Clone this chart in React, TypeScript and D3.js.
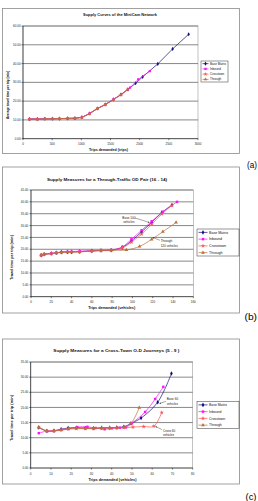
import * as d3 from "d3";

const FONT = "'Liberation Sans', Arial, Helvetica, sans-serif";

const seriesNames = ["Base Matrix", "Inbound", "Crosstown", "Through"];
const seriesColors = ["#10107a", "#ff10ff", "#ff5555", "#b8703c"];
const seriesSymbols = [d3.symbolDiamond, d3.symbolSquare, d3.symbolStar, d3.symbolTriangle];

// (a) Supply curves of the MiniCam network
const aXTicks = [0, 500, 1000, 1500, 2000, 2500, 3000];
const aYTicks = [0, 10, 20, 30, 40, 50, 60];
const aBaseX = [110, 245, 375, 505, 625, 765, 890, 1010, 1140, 1275, 1410, 1550, 1680, 1800, 1930, 2050, 2310, 2565, 2840];
const aBaseY = [10.5, 10.5, 10.6, 10.6, 10.7, 10.8, 10.9, 11.4, 13.4, 16.1, 18.2, 20.9, 23.5, 26.2, 29.5, 32.9, 39.8, 47.8, 55.6];
const aInboundX = [110, 245, 375, 505, 625, 765, 890, 1010, 1140, 1275, 1410, 1550, 1680, 1835, 1975, 2175];
const aInboundY = [10.5, 10.5, 10.6, 10.6, 10.7, 10.8, 10.9, 11.4, 13.4, 16.1, 18.2, 20.9, 23.6, 27.2, 31.6, 36.0];
const aCrossX = [110, 245, 375, 505, 625, 765, 890, 1010, 1140, 1275, 1410, 1550, 1680, 1795];
const aCrossY = [10.4, 10.4, 10.5, 10.6, 10.7, 10.8, 10.9, 11.3, 13.3, 16.0, 18.1, 20.8, 23.4, 26.2];
const aThroughX = [110, 245, 375, 505, 625, 765, 890, 1010, 1140, 1275, 1410, 1550, 1680, 1795];
const aThroughY = [10.4, 10.4, 10.5, 10.6, 10.7, 10.8, 10.9, 11.3, 13.3, 16.0, 18.1, 20.8, 23.4, 26.3];

// (b) Through-traffic OD pair (16 - 14)
const bXTicks = [0, 20, 40, 60, 80, 100, 120, 140, 160];
const bYTicks = [0, 5, 10, 15, 20, 25, 30, 35, 40, 45];
const bBaseX = [10, 13, 20, 25, 30, 36, 40, 48, 60, 69, 79, 90, 99, 109, 119, 129, 139];
const bBaseY = [17.5, 17.9, 18.2, 18.5, 18.8, 18.9, 18.9, 19.0, 19.3, 19.5, 19.6, 20.8, 23.5, 27.3, 31.4, 35.5, 38.7];
const bInboundX = [10, 13, 20, 25, 30, 36, 40, 48, 60, 69, 79, 90, 99, 109, 119, 130, 144];
const bInboundY = [17.6, 17.9, 18.3, 18.6, 18.8, 18.9, 19.0, 19.2, 19.4, 19.6, 19.7, 21.0, 24.2, 28.0, 31.8, 35.8, 40.0];
const bCrossX = [10, 13, 20, 25, 30, 36, 40, 48, 60, 69, 79, 90, 99, 109, 119, 129, 139];
const bCrossY = [17.4, 17.8, 18.2, 18.4, 18.7, 18.8, 18.8, 18.9, 19.2, 19.4, 19.5, 20.6, 23.0, 26.4, 30.5, 34.9, 38.5];
const bThroughX = [10, 13, 20, 25, 30, 36, 40, 48, 60, 69, 79, 94, 107, 119, 130, 143];
const bThroughY = [17.5, 17.9, 18.2, 18.5, 18.8, 18.9, 18.9, 19.0, 19.3, 19.5, 19.6, 19.7, 21.2, 24.2, 27.4, 31.3];

// (c) Cross-town O-D journeys (5 - 9)
const cXTicks = [0, 10, 20, 30, 40, 50, 60, 70, 80];
const cYTicks = [0, 5, 10, 15, 20, 25, 30, 35];
const cBaseX = [4, 8, 11.5, 15, 18.5, 22.5, 27, 31, 35, 39, 42.5, 46, 49.5, 54.5, 62.7, 69.5];
const cBaseY = [13.4, 12.2, 12.3, 12.8, 13.2, 13.3, 13.2, 13.1, 13.3, 13.3, 13.4, 13.6, 14.7, 16.5, 21.7, 31.2];
const cInboundX = [4, 8, 11.5, 15, 18.5, 23, 28, 32, 36.5, 40, 44, 47, 50, 56.5, 61.5, 65.5];
const cInboundY = [11.5, 12.2, 12.3, 12.6, 12.9, 13.5, 13.6, 13.2, 12.8, 13.1, 13.3, 13.4, 14.8, 18.5, 22.8, 26.8];
const cCrossX = [4, 8, 11.5, 15, 18.5, 22.5, 27, 31, 35, 39, 42.5, 46, 50.5, 55.8, 60.8, 64.7];
const cCrossY = [13.4, 12.3, 12.2, 12.5, 12.8, 13.0, 13.0, 13.0, 13.1, 13.2, 13.2, 13.3, 13.5, 13.7, 13.8, 18.3];
const cThroughX = [4, 8, 11.5, 15, 18.5, 22.5, 27, 31, 35, 39, 42.5, 46, 49.5, 53.6];
const cThroughY = [13.4, 12.2, 12.3, 12.6, 13.0, 13.1, 13.1, 13.1, 13.2, 13.3, 13.3, 13.5, 14.7, 19.9];

const zip = (xs: number[], ys: number[]): [number, number][] => xs.map((v, i) => [v, ys[i]]);

const panels = [
  {
    key: "a",
    box: { x: 2.5, y: 8.5, w: 237, h: 145 },
    plot: { left: 23, top: 26, right: 198, bottom: 138.7 },
    title: "Supply Curves of the MiniCam Network",
    titlePos: { x: 120, y: 15.6, len: 74, size: 3.8 },
    xTicks: aXTicks, yTicks: aYTicks,
    xLabel: "Trips demanded (trips)", xLabelPos: { x: 108.5, y: 150.6, len: 39 },
    yLabel: "Average travel time per trip (min)", yLabelPos: { x: 8.6, y: 95, len: 48 },
    xTickY: 145.3, yTickX: 20.6, tickSize: 3.0,
    series: [zip(aBaseX, aBaseY), zip(aInboundX, aInboundY), zip(aCrossX, aCrossY), zip(aThroughX, aThroughY)],
    curve: d3.curveLinear, markerSize: 5, lineW: 0.7,
    legend: { x: 201, y: 61, w: 27, h: 21, font: 3.0, sample: 6 },
    notes: [] as any[],
    label: "(a)", labelPos: { x: 247, y: 167.5, len: 10 },
  },
  {
    key: "b",
    box: { x: 2.5, y: 167, w: 237, h: 146 },
    plot: { left: 31, top: 190, right: 193.3, bottom: 296.7 },
    title: "Supply Measures for a Through-Traffic OD  Pair (16 - 14)",
    titlePos: { x: 107, y: 180.6, len: 120, size: 4 },
    xTicks: bXTicks, yTicks: bYTicks,
    xLabel: "Trips demanded (vehicles)", xLabelPos: { x: 111.7, y: 308.5, len: 47 },
    yLabel: "Travel time per trip (min)", yLabelPos: { x: 12.8, y: 257.5, len: 45 },
    xTickY: 302.9, yTickX: 28.3, tickSize: 3.0,
    series: [zip(bBaseX, bBaseY), zip(bInboundX, bInboundY), zip(bCrossX, bCrossY), zip(bThroughX, bThroughY)],
    curve: d3.curveCatmullRom.alpha(0.5), markerSize: 6, lineW: 0.7,
    legend: { x: 197, y: 229, w: 42, h: 27, font: 3.6, sample: 9 },
    notes: [
      { lines: ["Base 100", "vehicles"], tx: 96.5, ty: 32.9, from: [102.5, 33.2], to: [116.7, 31.3], anchor: "middle" },
      { lines: ["Through", "120 vehicles"], tx: 127.8, ty: 23.0, from: [127.1, 23.8], to: [120, 25], anchor: "start" },
    ],
    label: "(b)", labelPos: { x: 244.5, y: 319.5, len: 12.5 },
  },
  {
    key: "c",
    box: { x: 2.5, y: 339, w: 237, h: 145 },
    plot: { left: 30.7, top: 362, right: 192.7, bottom: 468 },
    title: "Supply Measures for  a Cross-Town O-D Journeys (5 - 9 )",
    titlePos: { x: 116.3, y: 351.6, len: 126, size: 4.2 },
    xTicks: cXTicks, yTicks: cYTicks,
    xLabel: "Trips demanded (vehicles)", xLabelPos: { x: 112.5, y: 480.6, len: 48 },
    yLabel: "Travel time per trip (min)", yLabelPos: { x: 12.8, y: 418, len: 46 },
    xTickY: 474.6, yTickX: 28.3, tickSize: 3.0,
    series: [zip(cBaseX, cBaseY), zip(cInboundX, cInboundY), zip(cCrossX, cCrossY), zip(cThroughX, cThroughY)],
    curve: d3.curveCatmullRom.alpha(0.5), markerSize: 6, lineW: 0.7,
    legend: { x: 197, y: 401.5, w: 42, h: 27, font: 3.4, sample: 9 },
    notes: [
      { lines: ["Base 60", "vehicles"], tx: 67.2, ty: 22.4, from: [66.8, 22.0], to: [63.6, 21.3], anchor: "start" },
      { lines: ["Cross 60", "vehicles"], tx: 65.3, ty: 11.9, from: [64.8, 12.7], to: [61.6, 13.7], anchor: "start" },
    ],
    label: "(c)", labelPos: { x: 245.5, y: 500, len: 11 },
  },
];

function Panel({ cfg }: { cfg: any }) {
  const { plot, box, legend } = cfg;
  const xs = cfg.xTicks as number[];
  const ys = cfg.yTicks as number[];
  const x = d3.scaleLinear().domain([xs[0], xs[xs.length - 1]]).range([plot.left, plot.right]);
  const y = d3.scaleLinear().domain([ys[0], ys[ys.length - 1]]).range([plot.bottom, plot.top]);
  const line = d3.line<[number, number]>().x((d) => x(d[0])).y((d) => y(d[1])).curve(cfg.curve);
  const fmt = d3.format(".2f");
  const sym = (i: number, s: number) => d3.symbol().type(seriesSymbols[i]).size(s)() || "";
  const rowH = legend.h / 4;

  return (
    <g fontFamily={FONT}>
      <rect x={box.x} y={box.y} width={box.w} height={box.h} fill="#fff" stroke="#8a8a8a" strokeWidth={0.8} />
      <text x={cfg.titlePos.x} y={cfg.titlePos.y} textAnchor="middle" fontSize={cfg.titlePos.size} fontWeight="bold"
        textLength={cfg.titlePos.len} lengthAdjust="spacingAndGlyphs" fill="#111">{cfg.title}</text>

      <rect x={plot.left} y={plot.top} width={plot.right - plot.left} height={plot.bottom - plot.top}
        fill="#fff" stroke="#9a9a9a" strokeWidth={0.6} />
      {ys.slice(1).map((t) => (
        <line key={"g" + t} x1={plot.left} x2={plot.right} y1={y(t)} y2={y(t)} stroke="#6a6a6a" strokeWidth={0.8} />
      ))}
      <line x1={plot.left} x2={plot.left} y1={plot.top} y2={plot.bottom} stroke="#000" strokeWidth={0.6} />
      <line x1={plot.left} x2={plot.right} y1={plot.bottom} y2={plot.bottom} stroke="#000" strokeWidth={0.6} />
      {ys.map((t) => (
        <g key={"yt" + t}>
          <line x1={plot.left - 1.5} x2={plot.left} y1={y(t)} y2={y(t)} stroke="#000" strokeWidth={0.5} />
          <text x={cfg.yTickX} y={y(t) + 1.1} textAnchor="end" fontSize={cfg.tickSize} fill="#222">{fmt(t)}</text>
        </g>
      ))}
      {xs.map((t) => (
        <g key={"xt" + t}>
          <line x1={x(t)} x2={x(t)} y1={plot.bottom} y2={plot.bottom + 1.5} stroke="#000" strokeWidth={0.5} />
          <text x={x(t)} y={cfg.xTickY} textAnchor="middle" fontSize={cfg.tickSize} fill="#222">{t}</text>
        </g>
      ))}
      <text x={cfg.xLabelPos.x} y={cfg.xLabelPos.y} textAnchor="middle" fontSize={3.8} fontWeight="bold"
        textLength={cfg.xLabelPos.len} lengthAdjust="spacingAndGlyphs" fill="#111">{cfg.xLabel}</text>
      <text transform={`translate(${cfg.yLabelPos.x},${cfg.yLabelPos.y}) rotate(-90)`} textAnchor="middle" fontSize={3.6}
        fontWeight="bold" textLength={cfg.yLabelPos.len} lengthAdjust="spacingAndGlyphs" fill="#111">{cfg.yLabel}</text>

      {cfg.series.map((pts: [number, number][], i: number) => (
        <g key={"s" + i}>
          <path d={line(pts) || ""} fill="none" stroke={seriesColors[i]} strokeWidth={cfg.lineW} />
          {pts.map((p, j) => (
            <path key={j} d={sym(i, cfg.markerSize)} transform={`translate(${x(p[0])},${y(p[1])})`} fill={seriesColors[i]} />
          ))}
        </g>
      ))}

      {cfg.notes.map((n: any, k: number) => {
        const x1 = x(n.from[0]), y1 = y(n.from[1]), x2 = x(n.to[0]), y2 = y(n.to[1]);
        const ang = Math.atan2(y2 - y1, x2 - x1);
        const hl = 1.6;
        const head = `M${x2},${y2}L${x2 - hl * Math.cos(ang - 0.45)},${y2 - hl * Math.sin(ang - 0.45)}L${x2 - hl * Math.cos(ang + 0.45)},${y2 - hl * Math.sin(ang + 0.45)}Z`;
        return (
          <g key={"n" + k}>
            <line x1={x1} y1={y1} x2={x2} y2={y2} stroke="#222" strokeWidth={0.4} />
            <path d={head} fill="#222" />
            {n.lines.map((s: string, m: number) => (
              <text key={m} x={x(n.tx)} y={y(n.ty) + m * 4.4} textAnchor={n.anchor} fontSize={3.1} fill="#222">{s}</text>
            ))}
          </g>
        );
      })}

      <rect x={legend.x} y={legend.y} width={legend.w} height={legend.h} fill="#fff" stroke="#333" strokeWidth={0.5} />
      {seriesNames.map((nm, i) => {
        const ry = legend.y + (i + 0.5) * rowH;
        const lx = legend.x + 1.5;
        return (
          <g key={"l" + i}>
            <line x1={lx} x2={lx + legend.sample} y1={ry} y2={ry} stroke={seriesColors[i]} strokeWidth={0.7} />
            <path d={sym(i, cfg.markerSize)} transform={`translate(${lx + legend.sample / 2},${ry})`} fill={seriesColors[i]} />
            <text x={lx + legend.sample + 1.6} y={ry + legend.font * 0.36} fontSize={legend.font} fill="#111">{nm}</text>
          </g>
        );
      })}

      <text x={cfg.labelPos.x} y={cfg.labelPos.y} fontSize={9} textLength={cfg.labelPos.len}
        lengthAdjust="spacingAndGlyphs" fill="#000">{cfg.label}</text>
    </g>
  );
}

export default function App() {
  return (
    <svg width={258} height={501} viewBox="0 0 258 501"
      style={{ position: "absolute", left: 0, top: 0, display: "block", background: "#fff" }}>
      {panels.map((p) => (
        <Panel key={p.key} cfg={p} />
      ))}
    </svg>
  );
}
